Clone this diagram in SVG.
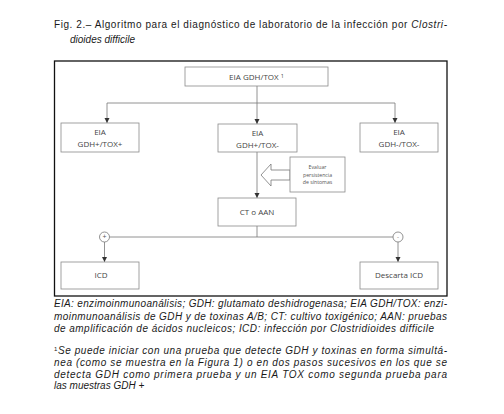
<svg xmlns="http://www.w3.org/2000/svg" width="504" height="414" viewBox="0 0 504 414">
<style>
.cap{font-family:"Liberation Sans",Arial,sans-serif;font-size:10px;fill:#1a1a1a}
.it{font-style:italic}
.box{fill:#fff;stroke:#8a8a8a;stroke-width:0.8}
.lbl{font-family:"Open Sans","DejaVu Sans",sans-serif;font-size:8px;fill:#444;text-anchor:middle}
.sm{font-family:"Open Sans","DejaVu Sans",sans-serif;font-size:5.2px;fill:#555;text-anchor:middle}
.ln{fill:none;stroke:#777;stroke-width:0.8}
</style>
<defs>
<marker id="ah" markerWidth="6" markerHeight="6" refX="5" refY="3" orient="auto" markerUnits="userSpaceOnUse">
<path d="M0,0.5 L5,3 L0,5.5 Z" fill="#333"/>
</marker>
</defs>
<rect width="504" height="414" fill="#fff"/>
<text class="cap" x="54" y="28" textLength="393" lengthAdjust="spacing">Fig. 2.– Algoritmo para el diagnóstico de laboratorio de la infección por <tspan class="it">Clostri-</tspan></text>
<text class="cap it" x="70" y="43">dioides difficile</text>
<rect x="54.5" y="61" width="392.5" height="235" fill="none" stroke="#111" stroke-width="1.3"/>
<g id="connectors">
<path class="ln" d="M257,86 V103"/>
<path class="ln" d="M107,103 H395"/>
<path class="ln" d="M107,103 V123" marker-end="url(#ah)"/>
<path class="ln" d="M257,103 V124" marker-end="url(#ah)"/>
<path class="ln" d="M395,103 V123" marker-end="url(#ah)"/>
<path class="ln" d="M257,152 V198" marker-end="url(#ah)"/>
<path class="ln" d="M257,226 V237"/>
<path class="ln" d="M109.5,237 H393"/>
<path class="ln" d="M104.5,242 V262" marker-end="url(#ah)"/>
<path class="ln" d="M398,242 V262" marker-end="url(#ah)"/>
<circle cx="104.5" cy="237" r="5" fill="#fff" stroke="#777" stroke-width="0.8"/>
<text class="sm" x="104.5" y="239.3" style="font-size:7px">+</text>
<circle cx="398" cy="237" r="5" fill="#fff" stroke="#777" stroke-width="0.8"/>
<text class="sm" x="398" y="239" style="font-size:6px">-</text>
<polygon points="261,175 271,164 271,170 290,170 290,180 271,180 271,186" fill="#fff" stroke="#777" stroke-width="0.8"/>
</g>
<g id="top">
<rect class="box" x="185" y="67" width="143" height="19"/>
<text class="lbl" x="256.5" y="80">EIA GDH/TOX <tspan style="font-size:5.5px" dy="-2.5">1</tspan></text>
</g>
<g id="left">
<rect class="box" x="61" y="123" width="78" height="29"/>
<text class="lbl" x="100" y="135">EIA</text>
<text class="lbl" x="100" y="147">GDH+/TOX+</text>
</g>
<g id="middle">
<rect class="box" x="218" y="124" width="79" height="28"/>
<text class="lbl" x="257.5" y="136">EIA</text>
<text class="lbl" x="257.5" y="148">GDH+/TOX-</text>
</g>
<g id="right">
<rect class="box" x="360" y="123" width="78" height="29"/>
<text class="lbl" x="399" y="135">EIA</text>
<text class="lbl" x="399" y="147">GDH-/TOX-</text>
</g>
<g id="evaluar">
<rect class="box" x="290" y="157" width="55" height="35"/>
<text class="sm" x="317.5" y="169">Evaluar</text>
<text class="sm" x="317.5" y="176.5">persistencia</text>
<text class="sm" x="317.5" y="184">de síntomas</text>
</g>
<g id="ct">
<rect class="box" x="218" y="198" width="78" height="28"/>
<text class="lbl" x="257" y="215">CT o AAN</text>
</g>
<g id="icd">
<rect class="box" x="61" y="262" width="78" height="27"/>
<text class="lbl" x="101" y="278">ICD</text>
</g>
<g id="descarta">
<rect class="box" x="360" y="262" width="78" height="27"/>
<text class="lbl" x="399" y="278">Descarta ICD</text>
</g>
<text class="cap it" x="54" y="307" textLength="393" lengthAdjust="spacing">EIA: enzimoinmunoanálisis; GDH: glutamato deshidrogenasa; EIA GDH/TOX: enzi-</text>
<text class="cap it" x="54" y="319.5" textLength="393" lengthAdjust="spacing">moinmunoanálisis de GDH y de toxinas A/B; CT: cultivo toxigénico; AAN: pruebas</text>
<text class="cap it" x="54" y="332" textLength="380" lengthAdjust="spacing">de amplificación de ácidos nucleicos; ICD: infección por Clostridioides difficile</text>
<text class="cap it" x="54" y="354" textLength="393" lengthAdjust="spacing"><tspan style="font-size:6px;font-style:normal" dy="-3">1</tspan><tspan dy="3">Se puede iniciar con una prueba que detecte GDH y toxinas en forma simultá-</tspan></text>
<text class="cap it" x="54" y="366" textLength="393" lengthAdjust="spacing">nea (como se muestra en la Figura 1) o en dos pasos sucesivos en los que se</text>
<text class="cap it" x="54" y="377.5" textLength="393" lengthAdjust="spacing">detecta GDH como primera prueba y un EIA TOX como segunda prueba para</text>
<text class="cap it" x="54" y="389">las muestras GDH +</text>
</svg>
